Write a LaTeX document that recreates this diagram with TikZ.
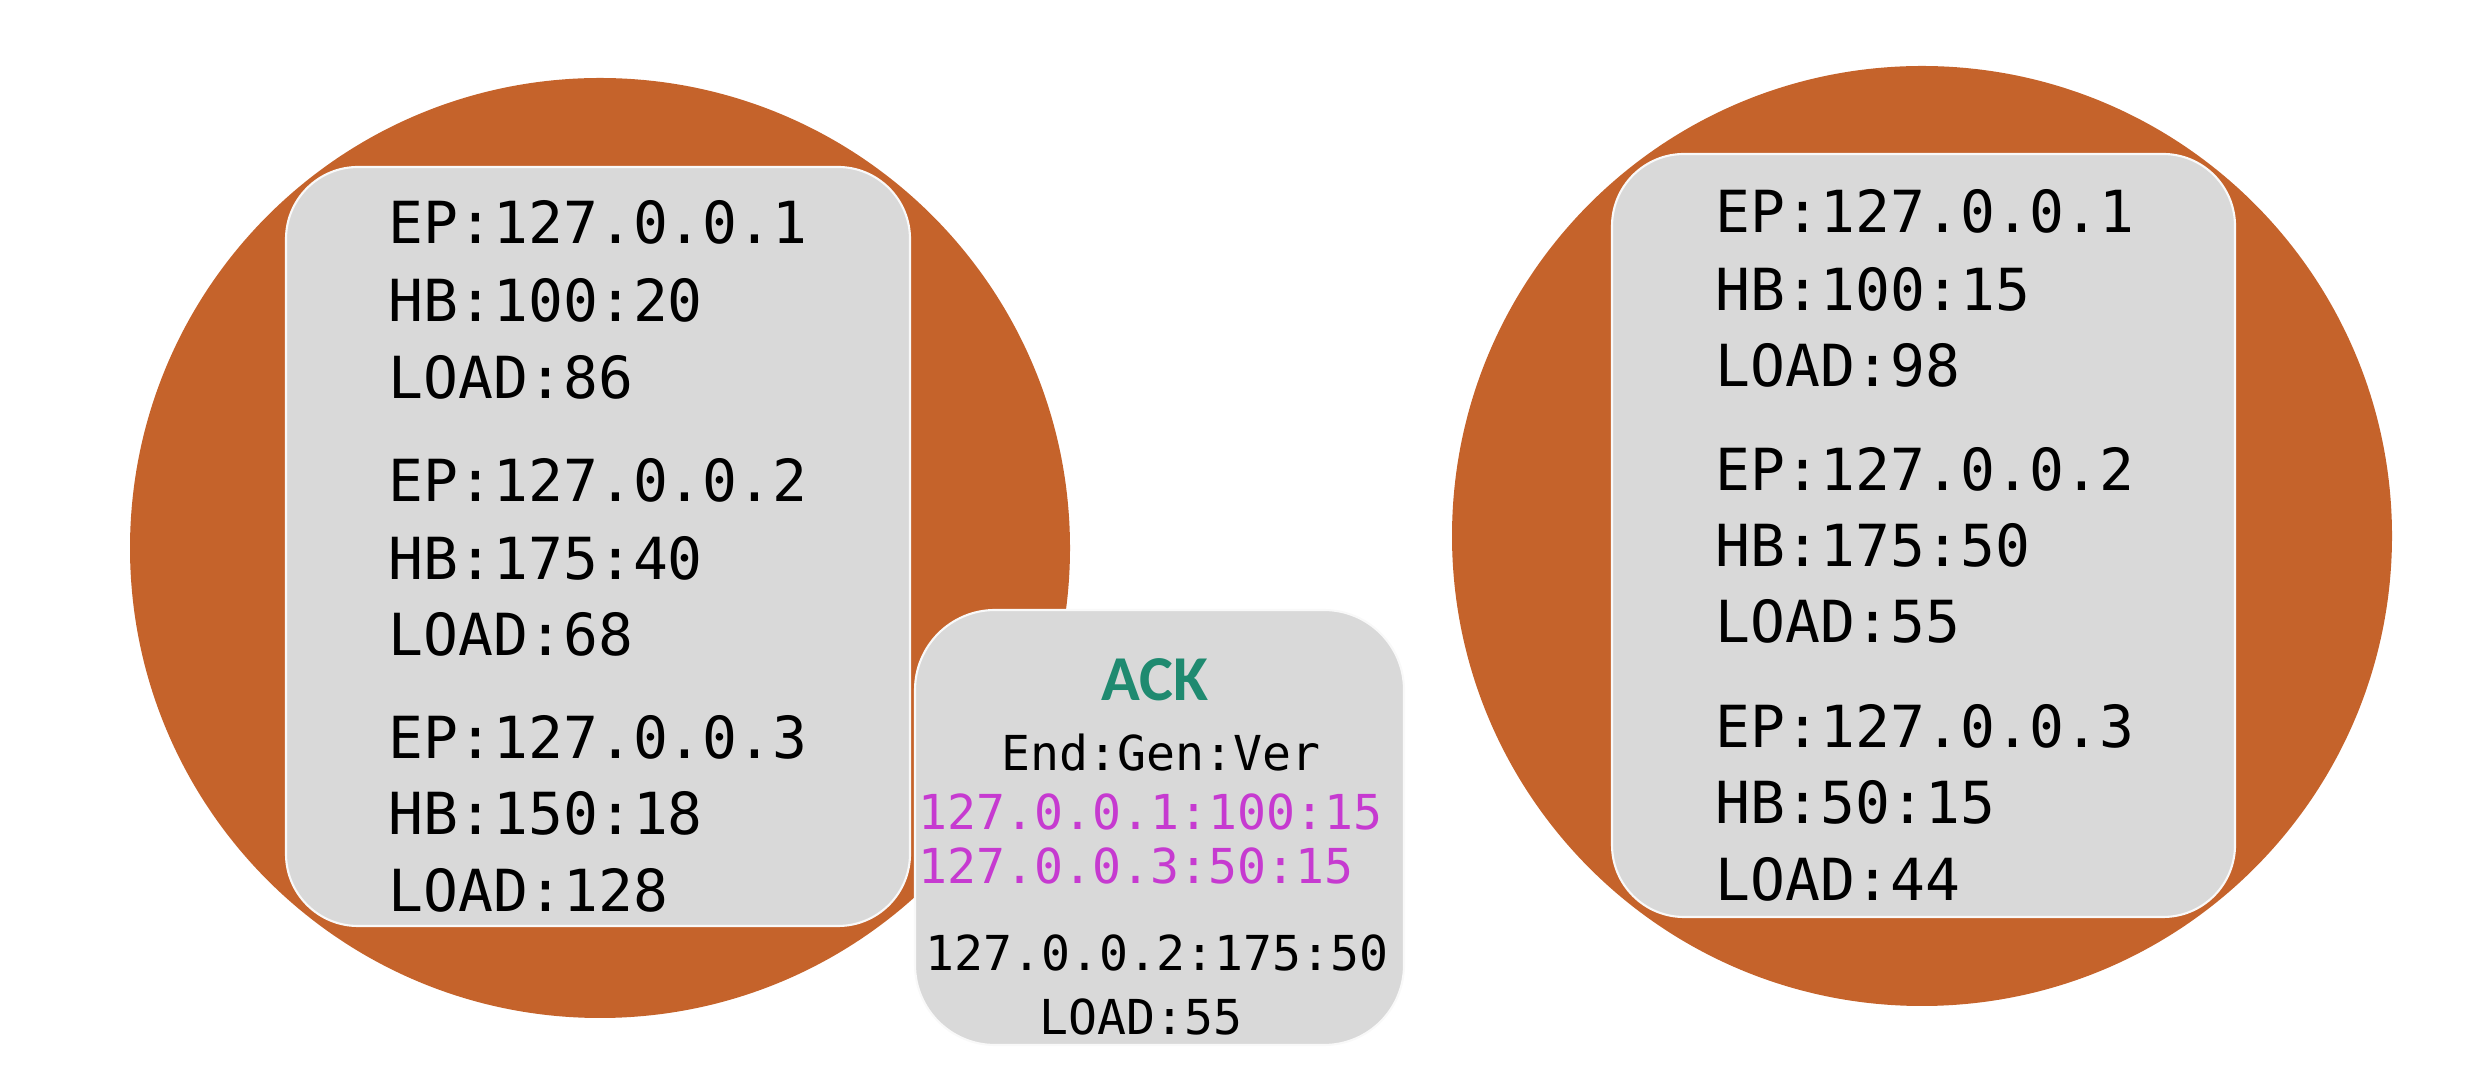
\documentclass[tikz,border=0pt]{standalone}
\usepackage{fontspec}
\setmonofont{DejaVu Sans Mono}
\newfontfamily\ackfont{Carlito}
\definecolor{nodeorange}{HTML}{C5632B}
\definecolor{boxgray}{HTML}{D9D9D9}
\definecolor{ackteal}{HTML}{1F8A70}
\definecolor{newmagenta}{HTML}{C63AD0}
\tikzset{
  gossip node/.style={circle, fill=nodeorange, draw=none, minimum size=9.4cm,
    inner sep=0pt},
  state box/.style={rectangle, rounded corners=0.72cm, fill=boxgray,
    draw=white!85!boxgray, line width=0.6pt, inner sep=0pt},
  state line/.style={font=\ttfamily\fontsize{16.5}{18}\selectfont, anchor=west,
    inner sep=0pt, text height=12pt, text depth=0pt},
  ack line/.style={font=\ttfamily\fontsize{13.7}{15}\selectfont,
    inner sep=0pt, text height=10pt, text depth=0pt},
  ack title/.style={font=\ackfont\bfseries\fontsize{18.2}{20}\selectfont,
    text=ackteal, inner sep=0pt},
}

\begin{document}
\begin{tikzpicture}[x=1cm, y=1cm]
  \useasboundingbox (0,0) rectangle (24.91,10.77);

  % left endpoint
  \node[gossip node] (nodeL) at (6.00,5.29) {};
  \node[state box, minimum width=6.24cm, minimum height=7.59cm] (boxL)
    at (5.98,5.305) {};
  \node[state line] (l1) at (3.88,8.55) {EP:127.0.0.1};
  \node[state line] (l2) at (3.88,7.77) {HB:100:20};
  \node[state line] (l3) at (3.88,7.00) {LOAD:86};
  \node[state line] (l4) at (3.88,5.97) {EP:127.0.0.2};
  \node[state line] (l5) at (3.88,5.19) {HB:175:40};
  \node[state line] (l6) at (3.88,4.43) {LOAD:68};
  \node[state line] (l7) at (3.88,3.40) {EP:127.0.0.3};
  \node[state line] (l8) at (3.88,2.64) {HB:150:18};
  \node[state line] (l9) at (3.88,1.87) {LOAD:128};

  % right endpoint
  \node[gossip node] (nodeR) at (19.22,5.41) {};
  \node[state box, minimum width=6.23cm, minimum height=7.63cm] (boxR)
    at (19.235,5.415) {};
  \node[state line] (r1) at (17.15,8.66) {EP:127.0.0.1};
  \node[state line] (r2) at (17.15,7.88) {HB:100:15};
  \node[state line] (r3) at (17.15,7.12) {LOAD:98};
  \node[state line] (r4) at (17.15,6.08) {EP:127.0.0.2};
  \node[state line] (r5) at (17.15,5.32) {HB:175:50};
  \node[state line] (r6) at (17.15,4.56) {LOAD:55};
  \node[state line] (r7) at (17.15,3.51) {EP:127.0.0.3};
  \node[state line] (r8) at (17.15,2.75) {HB:50:15};
  \node[state line] (r9) at (17.15,1.98) {LOAD:44};

  % ack message
  \node[state box, rounded corners=0.8cm, minimum width=4.89cm,
    minimum height=4.35cm] (ack) at (11.595,2.495) {};
  \node[ack title] (ackT) at (11.55,3.97) {ACK};
  \node[ack line] (ackH) at (11.61,3.24) {End:Gen:Ver};
  \node[ack line, anchor=west, text=newmagenta] (ackA) at (9.18,2.65)
    {127.0.0.1:100:15};
  \node[ack line, anchor=west, text=newmagenta] (ackB) at (9.18,2.11)
    {127.0.0.3:50:15};
  \node[ack line] (ackC) at (11.57,1.24) {127.0.0.2:175:50};
  \node[ack line] (ackD) at (11.41,0.60) {LOAD:55};
\end{tikzpicture}
\end{document}
